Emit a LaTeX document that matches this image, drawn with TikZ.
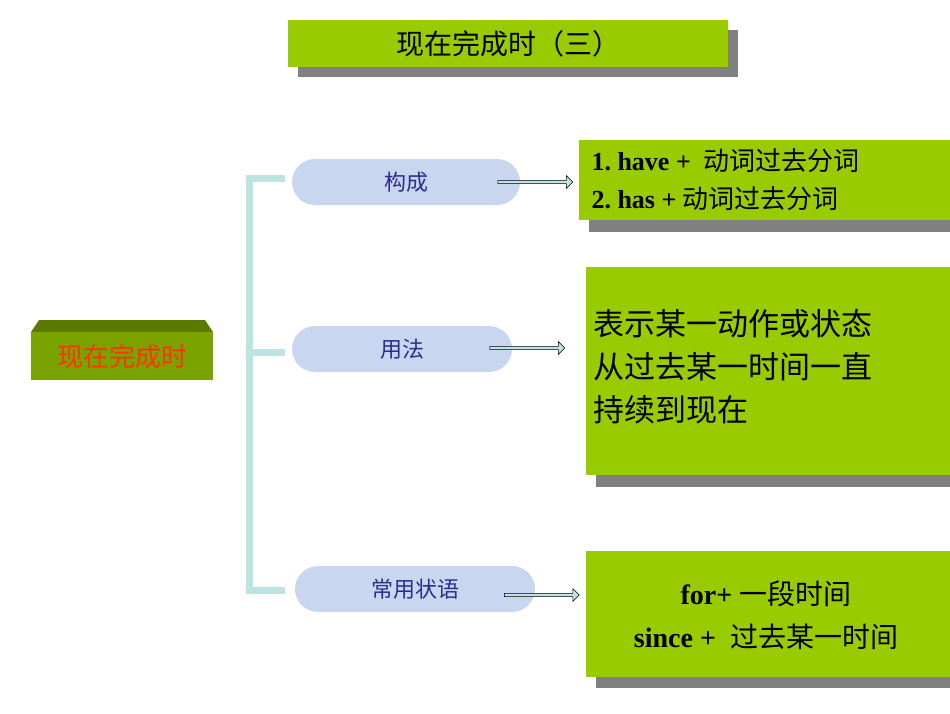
\documentclass[tikz,border=0pt]{standalone}
\usepackage{fontspec}
\setmainfont{Liberation Serif}
\newfontfamily\cjk{Noto Sans CJK SC}
\usetikzlibrary{shapes.arrows}
\definecolor{lg}{HTML}{99CC00}
\definecolor{sh}{HTML}{808080}
\definecolor{br}{HTML}{BDE3E3}
\definecolor{ov}{HTML}{C9D6F0}
\definecolor{ovt}{HTML}{2E2E8C}
\tikzset{
 gbox/.style={fill=lg,draw=none},
 shbox/.style={fill=sh,draw=none},
 oval/.style={fill=ov,rounded corners=23pt,minimum height=46pt,inner sep=0pt,text=ovt,font=\cjk\fontsize{22}{24}\selectfont},
 barrow/.style={single arrow,draw=black,fill=br,single arrow head extend=4pt,minimum height=75pt,minimum width=13pt,inner sep=1pt,line width=0.6pt},
 brk/.style={br,line width=7pt}
}
\begin{document}
\begin{tikzpicture}[x=1pt,y=-1pt]
\useasboundingbox (0,0) rectangle (950,713);
% title
\fill[shbox] (298,30) rectangle (738,77);
\node[gbox,minimum width=440pt,minimum height=47pt,anchor=north west,font=\cjk\fontsize{28}{30}\selectfont] (title) at (288,20) {现在完成时（三）};
% left box
\fill[fill=black!40!lg] (31,332) -- (39,320) -- (205,320) -- (213,332) -- cycle;
\node[fill=black!20!lg,minimum width=182pt,minimum height=48pt,anchor=north west,text={rgb,255:red,255;green,51;blue,0},font=\cjk\fontsize{26}{28}\selectfont] (main) at (31,332) {现在完成时};
% bracket
\coordinate (bt) at (249,178);
\coordinate (bb) at (249,590);
\draw[brk] (bt) -- (bb);
\node[oval,minimum width=228pt] (o1) at (406,182) {构成};
\node[oval,minimum width=220pt] (o2) at (402,349) {用法};
\node[oval,minimum width=240pt] (o3) at (415,589) {常用状语};
\draw[brk] (245.5,178) -- (285,178);
\draw[brk] (249,352) -- (285,352);
\draw[brk] (245.5,590) -- (285,590);
% right boxes
\fill[shbox] (589,150) rectangle (950,232);
\node[gbox,minimum width=371pt,minimum height=80pt,anchor=north west] (r1) at (579,140) {};
\node[anchor=west,align=left,font=\bfseries\fontsize{26}{38}\selectfont] at (588,180) {1.\ have + \ {\cjk\mdseries 动词过去分词}\\2.\ has + {\cjk\mdseries 动词过去分词}};
\fill[shbox] (596,277) rectangle (950,487);
\node[gbox,minimum width=364pt,minimum height=208pt,anchor=north west] (r2) at (586,267) {};
\node[anchor=north west,align=left,font=\cjk\fontsize{31}{43}\selectfont] at (590,306) {表示某一动作或状态\\从过去某一时间一直\\持续到现在};
\fill[shbox] (596,561) rectangle (950,688);
\node[gbox,minimum width=364pt,minimum height=126pt,anchor=north west] (r3) at (586,551) {};
\node[align=center,font=\bfseries\fontsize{28}{43}\selectfont] at (766,615) {for+ {\cjk\mdseries 一段时间}\\since + \ {\cjk\mdseries 过去某一时间}};
% arrows
\node[barrow] (a1) at (534.5,182) {};
\node[barrow] (a2) at (526.5,348) {};
\node[barrow] (a3) at (541,595) {};
\end{tikzpicture}
\end{document}
